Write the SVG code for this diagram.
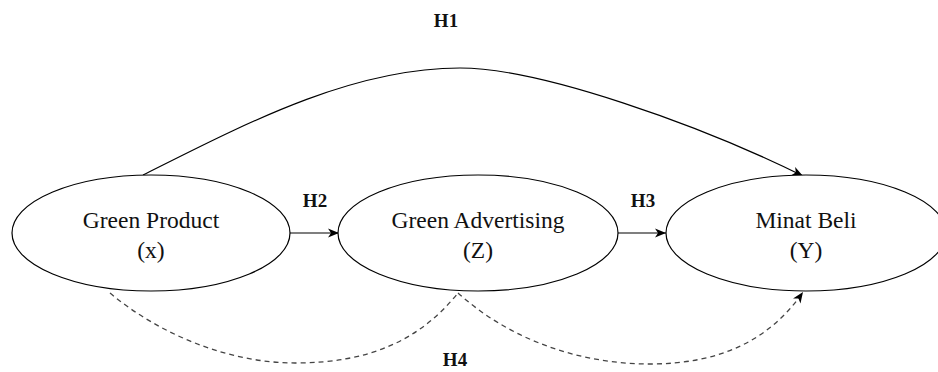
<svg xmlns="http://www.w3.org/2000/svg" width="938" height="372" viewBox="0 0 938 372">
<style>
.node ellipse{fill:#fff;stroke:#000;stroke-width:1.2}
.lbl{font-family:"Liberation Serif","Times New Roman",serif;font-size:23.5px;fill:#111;text-anchor:middle}
.h{font-family:"Liberation Serif","Times New Roman",serif;font-size:19px;font-weight:bold;fill:#111;text-anchor:middle}
.edge{fill:none;stroke:#000;stroke-width:1.2}
.dash{fill:none;stroke:#444;stroke-width:1.3;stroke-dasharray:5 4}
</style>
<defs>
<marker id="arr" markerUnits="userSpaceOnUse" markerWidth="12" markerHeight="10" refX="11" refY="4.5" orient="auto" overflow="visible">
<path d="M0,0 L11,4.5 L0,9 L3,4.5 Z" fill="#000" stroke="none"/>
</marker>
</defs>
<g id="connectors">
<path id="e-h1" class="edge" d="M143,175 C243,125 350,68 460,68 C540,68 700,125 803,176" marker-end="url(#arr)"/>
<path id="e-h2" class="edge" d="M290,233 L339,233" marker-end="url(#arr)"/>
<path id="e-h3" class="edge" d="M618,233 L666,233" marker-end="url(#arr)"/>
<path id="e-h4a" class="dash" d="M110,293 C160,335 230,363 295,363 C370,363 420,340 458,293"/>
<path id="e-h4b" class="dash" d="M458,293 C510,340 580,364 650,364 C720,364 770,340 803,292" marker-end="url(#arr)"/>
<text class="h" x="446" y="27">H1</text>
<text class="h" x="315" y="207">H2</text>
<text class="h" x="643" y="207">H3</text>
<text class="h" x="455" y="366">H4</text>
</g>
<g id="node-x" class="node">
<ellipse cx="151" cy="233" rx="139" ry="58"/>
<text class="lbl" x="151" y="228">Green Product</text>
<text class="lbl" x="151" y="258">(x)</text>
</g>
<g id="node-z" class="node">
<ellipse cx="478" cy="233" rx="140" ry="58"/>
<text class="lbl" x="478" y="228">Green Advertising</text>
<text class="lbl" x="478" y="258">(Z)</text>
</g>
<g id="node-y" class="node">
<ellipse cx="806" cy="233" rx="140" ry="58"/>
<text class="lbl" x="806" y="228">Minat Beli</text>
<text class="lbl" x="806" y="258">(Y)</text>
</g>
</svg>
